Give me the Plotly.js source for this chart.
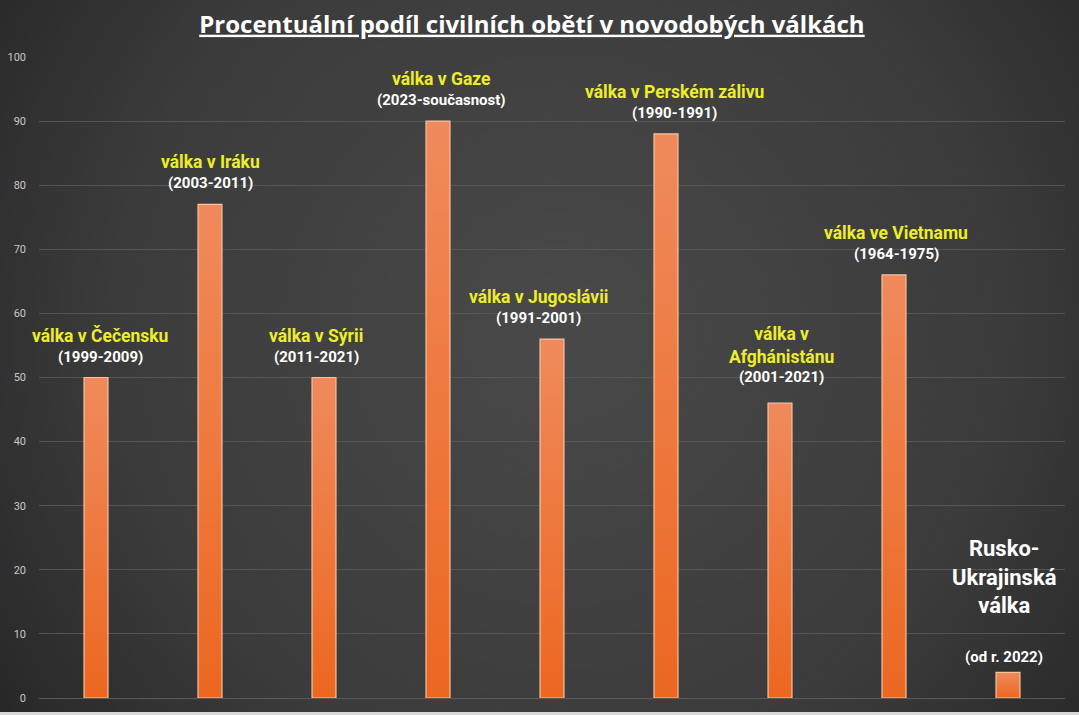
<!DOCTYPE html>
<html>
<head>
<meta charset="utf-8">
<script src="https://cdn.plot.ly/plotly-3.0.1.min.js"></script>
<style>
  html, body { margin: 0; padding: 0; background: #333; }
  #chart { width: 1079px; height: 715px; }
</style>
</head>
<body>
<div id="chart"></div>
<script>
// data
const wars = ['válka v Čečensku', 'válka v Iráku', 'válka v Sýrii', 'válka v Gaze',
    'válka v Jugoslávii', 'válka v Perském zálivu', 'válka v<br>Afghánistánu',
    'válka ve Vietnamu', 'Rusko-<br>Ukrajinská<br>válka'];
const periods = ['(1999-2009)', '(2003-2011)', '(2011-2021)', '(2023-současnost)',
    '(1991-2001)', '(1990-1991)', '(2001-2021)', '(1964-1975)', '(od r. 2022)'];
const civilianShare = [50, 77, 50, 90, 56, 88, 46, 66, 4];
const yTicks = [0, 10, 20, 30, 40, 50, 60, 70, 80, 90, 100];

// label nudges in px (layout only)
const nameShift = [4, 0, -8, 3, -14, 8, 1, 2, -4];
const lastIdx = wars.length - 1;

// dark radial backdrop
function backdrop() {
    let c = document.createElement('canvas');
    c.width = 1079; c.height = 715;
    let ctx = c.getContext('2d');
    let g = ctx.createRadialGradient(560, 330, 40, 560, 330, 720);
    g.addColorStop(0, '#484848');
    g.addColorStop(0.6, '#3b3b3b');
    g.addColorStop(1, '#242424');
    ctx.fillStyle = g;
    ctx.fillRect(0, 0, 1079, 715);
    return c.toDataURL();
}

// bar gradient, lighter at the top
function barFill() {
    let c = document.createElement('canvas');
    c.width = 4; c.height = 200;
    let ctx = c.getContext('2d');
    let g = ctx.createLinearGradient(0, 0, 0, 200);
    g.addColorStop(0, '#f0845a');
    g.addColorStop(1, '#ec6820');
    ctx.fillStyle = g;
    ctx.fillRect(0, 0, 4, 200);
    return c.toDataURL();
}

let annotations = [];
for (let i = 0; i < wars.length; ++i) {
    let isLast = i === lastIdx;
    annotations.push({ // period
        x: i, y: civilianShare[i], xref: 'x', yref: 'y',
        text: '<b>' + periods[i] + '</b>',
        showarrow: false, yanchor: 'bottom', yshift: isLast ? 4 : (i === 6 ? 15 : 10),
        xshift: nameShift[i],
        font: { family: 'Roboto, sans-serif', size: 15, color: '#ffffff' },
    });
    annotations.push({ // war name
        x: i, y: civilianShare[i], xref: 'x', yref: 'y',
        text: '<b>' + wars[i] + '</b>',
        showarrow: false, yanchor: 'bottom', yshift: isLast ? 52 : (i === 6 ? 34 : 30),
        xshift: nameShift[i],
        font: { family: 'Roboto, sans-serif', size: isLast ? 22 : 17.5,
            color: isLast ? '#ffffff' : '#eded2a' },
    });
}

const data = [{
    type: 'bar',
    x: wars.map((w, i) => i),
    y: civilianShare,
    width: 0.21,
    marker: {
        color: '#ee7634',
        line: { color: '#f5c2a2', width: 1.2 },
    },
    hoverinfo: 'skip',
}];

const layout = {
    width: 1079,
    height: 715,
    margin: { l: 39, r: 14, t: 57, b: 17, pad: 0 },
    paper_bgcolor: '#383838',
    plot_bgcolor: 'rgba(0,0,0,0)',
    showlegend: false,
    title: {
        text: '<b>Procentuální podíl civilních obětí v novodobých válkách</b>',
        x: 0.493, xanchor: 'center',
        y: 0.966, yanchor: 'middle',
        font: { family: '"Open Sans", sans-serif', size: 24, color: '#ffffff', lineposition: 'under' },
    },
    xaxis: {
        range: [-0.5, 8.5],
        showticklabels: false,
        showgrid: false,
        zeroline: false,
        fixedrange: true,
    },
    yaxis: {
        range: [0, 100],
        tickvals: yTicks,
        ticktext: yTicks.map(String),
        gridcolor: '#555555',
        gridwidth: 1,
        zeroline: true,
        zerolinecolor: '#5a5a5a',
        ticklabelstandoff: 12,
        tickfont: { family: 'Roboto, sans-serif', size: 11, color: '#c8c8c8' },
        fixedrange: true,
    },
    images: [{
        source: backdrop(),
        xref: 'paper', yref: 'paper',
        x: -39 / 1026, y: 1 + 57 / 641,
        sizex: 1079 / 1026, sizey: 715 / 641,
        xanchor: 'left', yanchor: 'top',
        sizing: 'stretch',
        layer: 'below',
    }],
    annotations: annotations,
    shapes: [{ // light strip at the bottom edge
        type: 'rect', xref: 'paper', yref: 'paper',
        x0: -39 / 1026, x1: 1 + 14 / 1026, y0: -17 / 641, y1: -14 / 641,
        fillcolor: '#d8d8d8', line: { width: 0 }, layer: 'below',
    }],
};

Plotly.newPlot('chart', data, layout, { staticPlot: true, displayModeBar: false }).then(function (gd) {
    // paint the bars with a vertical gradient
    let svg = gd.querySelector('.main-svg');
    let ns = 'http://www.w3.org/2000/svg';
    let defs = svg.querySelector('defs') || svg.insertBefore(document.createElementNS(ns, 'defs'), svg.firstChild);
    let lg = document.createElementNS(ns, 'linearGradient');
    lg.setAttribute('id', 'barGrad');
    lg.setAttribute('x1', '0'); lg.setAttribute('y1', '0');
    lg.setAttribute('x2', '0'); lg.setAttribute('y2', '1');
    [['0', '#f08a5c'], ['1', '#ec6720']].forEach(function (s) {
        let st = document.createElementNS(ns, 'stop');
        st.setAttribute('offset', s[0]);
        st.setAttribute('stop-color', s[1]);
        lg.appendChild(st);
    });
    defs.appendChild(lg);
    gd.querySelectorAll('.bars .point path').forEach(function (p) {
        p.style.fill = 'url(#barGrad)';
    });
});
</script>
</body>
</html>
